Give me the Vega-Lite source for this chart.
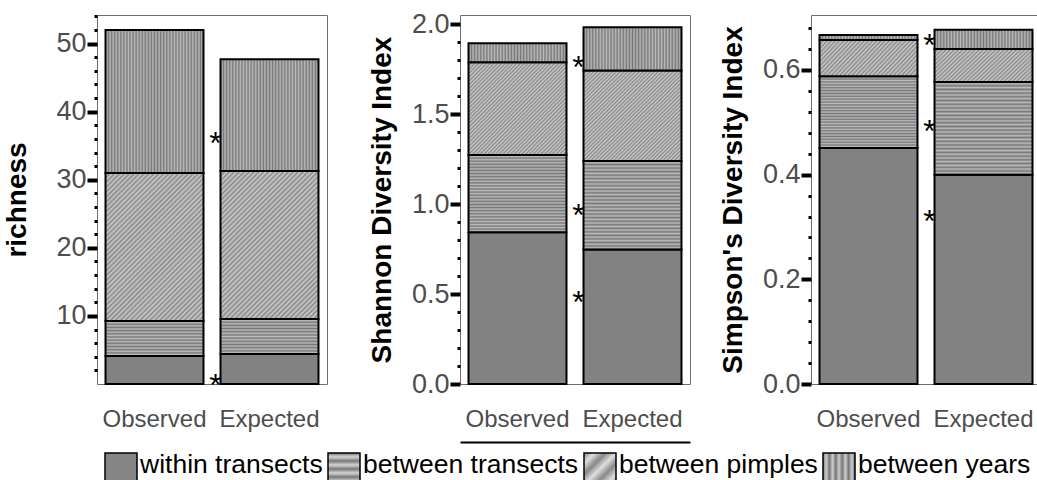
{
  "$schema": "https://vega.github.io/schema/vega-lite/v6.json",
  "padding": {"left": 3, "top": 9, "right": 0, "bottom": 0},
  "params": [
    {"name": "gV", "expr": "{gradient:'linear',x1:0,y1:0,x2:1,y2:0,stops:[{offset:0,color:'#777'},{offset:0.015625,color:'#bbb'},{offset:0.03125,color:'#777'},{offset:0.046875,color:'#bbb'},{offset:0.0625,color:'#777'},{offset:0.078125,color:'#bbb'},{offset:0.09375,color:'#777'},{offset:0.109375,color:'#bbb'},{offset:0.125,color:'#777'},{offset:0.140625,color:'#bbb'},{offset:0.15625,color:'#777'},{offset:0.171875,color:'#bbb'},{offset:0.1875,color:'#777'},{offset:0.203125,color:'#bbb'},{offset:0.21875,color:'#777'},{offset:0.234375,color:'#bbb'},{offset:0.25,color:'#777'},{offset:0.265625,color:'#bbb'},{offset:0.28125,color:'#777'},{offset:0.296875,color:'#bbb'},{offset:0.3125,color:'#777'},{offset:0.328125,color:'#bbb'},{offset:0.34375,color:'#777'},{offset:0.359375,color:'#bbb'},{offset:0.375,color:'#777'},{offset:0.390625,color:'#bbb'},{offset:0.40625,color:'#777'},{offset:0.421875,color:'#bbb'},{offset:0.4375,color:'#777'},{offset:0.453125,color:'#bbb'},{offset:0.46875,color:'#777'},{offset:0.484375,color:'#bbb'},{offset:0.5,color:'#777'},{offset:0.515625,color:'#bbb'},{offset:0.53125,color:'#777'},{offset:0.546875,color:'#bbb'},{offset:0.5625,color:'#777'},{offset:0.578125,color:'#bbb'},{offset:0.59375,color:'#777'},{offset:0.609375,color:'#bbb'},{offset:0.625,color:'#777'},{offset:0.640625,color:'#bbb'},{offset:0.65625,color:'#777'},{offset:0.671875,color:'#bbb'},{offset:0.6875,color:'#777'},{offset:0.703125,color:'#bbb'},{offset:0.71875,color:'#777'},{offset:0.734375,color:'#bbb'},{offset:0.75,color:'#777'},{offset:0.765625,color:'#bbb'},{offset:0.78125,color:'#777'},{offset:0.796875,color:'#bbb'},{offset:0.8125,color:'#777'},{offset:0.828125,color:'#bbb'},{offset:0.84375,color:'#777'},{offset:0.859375,color:'#bbb'},{offset:0.875,color:'#777'},{offset:0.890625,color:'#bbb'},{offset:0.90625,color:'#777'},{offset:0.921875,color:'#bbb'},{offset:0.9375,color:'#777'},{offset:0.953125,color:'#bbb'},{offset:0.96875,color:'#777'},{offset:0.984375,color:'#bbb'},{offset:1,color:'#777'}]}"},
    {"name": "gH1", "expr": "{gradient:'linear',x1:0,y1:0,x2:0,y2:1,stops:[{offset:0,color:'#777'},{offset:0.0455,color:'#bbb'},{offset:0.0909,color:'#777'},{offset:0.1364,color:'#bbb'},{offset:0.1818,color:'#777'},{offset:0.2273,color:'#bbb'},{offset:0.2727,color:'#777'},{offset:0.3182,color:'#bbb'},{offset:0.3636,color:'#777'},{offset:0.4091,color:'#bbb'},{offset:0.4545,color:'#777'},{offset:0.5,color:'#bbb'},{offset:0.5455,color:'#777'},{offset:0.5909,color:'#bbb'},{offset:0.6364,color:'#777'},{offset:0.6818,color:'#bbb'},{offset:0.7273,color:'#777'},{offset:0.7727,color:'#bbb'},{offset:0.8182,color:'#777'},{offset:0.8636,color:'#bbb'},{offset:0.9091,color:'#777'},{offset:0.9545,color:'#bbb'},{offset:1,color:'#777'}]}"},
    {"name": "gH2", "expr": "{gradient:'linear',x1:0,y1:0,x2:0,y2:1,stops:[{offset:0,color:'#777'},{offset:0.02,color:'#bbb'},{offset:0.04,color:'#777'},{offset:0.06,color:'#bbb'},{offset:0.08,color:'#777'},{offset:0.1,color:'#bbb'},{offset:0.12,color:'#777'},{offset:0.14,color:'#bbb'},{offset:0.16,color:'#777'},{offset:0.18,color:'#bbb'},{offset:0.2,color:'#777'},{offset:0.22,color:'#bbb'},{offset:0.24,color:'#777'},{offset:0.26,color:'#bbb'},{offset:0.28,color:'#777'},{offset:0.3,color:'#bbb'},{offset:0.32,color:'#777'},{offset:0.34,color:'#bbb'},{offset:0.36,color:'#777'},{offset:0.38,color:'#bbb'},{offset:0.4,color:'#777'},{offset:0.42,color:'#bbb'},{offset:0.44,color:'#777'},{offset:0.46,color:'#bbb'},{offset:0.48,color:'#777'},{offset:0.5,color:'#bbb'},{offset:0.52,color:'#777'},{offset:0.54,color:'#bbb'},{offset:0.56,color:'#777'},{offset:0.58,color:'#bbb'},{offset:0.6,color:'#777'},{offset:0.62,color:'#bbb'},{offset:0.64,color:'#777'},{offset:0.66,color:'#bbb'},{offset:0.68,color:'#777'},{offset:0.7,color:'#bbb'},{offset:0.72,color:'#777'},{offset:0.74,color:'#bbb'},{offset:0.76,color:'#777'},{offset:0.78,color:'#bbb'},{offset:0.8,color:'#777'},{offset:0.82,color:'#bbb'},{offset:0.84,color:'#777'},{offset:0.86,color:'#bbb'},{offset:0.88,color:'#777'},{offset:0.9,color:'#bbb'},{offset:0.92,color:'#777'},{offset:0.94,color:'#bbb'},{offset:0.96,color:'#777'},{offset:0.98,color:'#bbb'},{offset:1,color:'#777'}]}"},
    {"name": "gD1", "expr": "{gradient:'linear',x1:0,y1:0,x2:0.765,y2:1.155,stops:[{offset:0,color:'#888'},{offset:0.01,color:'#ccc'},{offset:0.02,color:'#888'},{offset:0.03,color:'#ccc'},{offset:0.04,color:'#888'},{offset:0.05,color:'#ccc'},{offset:0.06,color:'#888'},{offset:0.07,color:'#ccc'},{offset:0.08,color:'#888'},{offset:0.09,color:'#ccc'},{offset:0.1,color:'#888'},{offset:0.11,color:'#ccc'},{offset:0.12,color:'#888'},{offset:0.13,color:'#ccc'},{offset:0.14,color:'#888'},{offset:0.15,color:'#ccc'},{offset:0.16,color:'#888'},{offset:0.17,color:'#ccc'},{offset:0.18,color:'#888'},{offset:0.19,color:'#ccc'},{offset:0.2,color:'#888'},{offset:0.21,color:'#ccc'},{offset:0.22,color:'#888'},{offset:0.23,color:'#ccc'},{offset:0.24,color:'#888'},{offset:0.25,color:'#ccc'},{offset:0.26,color:'#888'},{offset:0.27,color:'#ccc'},{offset:0.28,color:'#888'},{offset:0.29,color:'#ccc'},{offset:0.3,color:'#888'},{offset:0.31,color:'#ccc'},{offset:0.32,color:'#888'},{offset:0.33,color:'#ccc'},{offset:0.34,color:'#888'},{offset:0.35,color:'#ccc'},{offset:0.36,color:'#888'},{offset:0.37,color:'#ccc'},{offset:0.38,color:'#888'},{offset:0.39,color:'#ccc'},{offset:0.4,color:'#888'},{offset:0.41,color:'#ccc'},{offset:0.42,color:'#888'},{offset:0.43,color:'#ccc'},{offset:0.44,color:'#888'},{offset:0.45,color:'#ccc'},{offset:0.46,color:'#888'},{offset:0.47,color:'#ccc'},{offset:0.48,color:'#888'},{offset:0.49,color:'#ccc'},{offset:0.5,color:'#888'},{offset:0.51,color:'#ccc'},{offset:0.52,color:'#888'},{offset:0.53,color:'#ccc'},{offset:0.54,color:'#888'},{offset:0.55,color:'#ccc'},{offset:0.56,color:'#888'},{offset:0.57,color:'#ccc'},{offset:0.58,color:'#888'},{offset:0.59,color:'#ccc'},{offset:0.6,color:'#888'},{offset:0.61,color:'#ccc'},{offset:0.62,color:'#888'},{offset:0.63,color:'#ccc'},{offset:0.64,color:'#888'},{offset:0.65,color:'#ccc'},{offset:0.66,color:'#888'},{offset:0.67,color:'#ccc'},{offset:0.68,color:'#888'},{offset:0.69,color:'#ccc'},{offset:0.7,color:'#888'},{offset:0.71,color:'#ccc'},{offset:0.72,color:'#888'},{offset:0.73,color:'#ccc'},{offset:0.74,color:'#888'},{offset:0.75,color:'#ccc'},{offset:0.76,color:'#888'},{offset:0.77,color:'#ccc'},{offset:0.78,color:'#888'},{offset:0.79,color:'#ccc'},{offset:0.8,color:'#888'},{offset:0.81,color:'#ccc'},{offset:0.82,color:'#888'},{offset:0.83,color:'#ccc'},{offset:0.84,color:'#888'},{offset:0.85,color:'#ccc'},{offset:0.86,color:'#888'},{offset:0.87,color:'#ccc'},{offset:0.88,color:'#888'},{offset:0.89,color:'#ccc'},{offset:0.9,color:'#888'},{offset:0.91,color:'#ccc'},{offset:0.92,color:'#888'},{offset:0.93,color:'#ccc'},{offset:0.94,color:'#888'},{offset:0.95,color:'#ccc'},{offset:0.96,color:'#888'},{offset:0.97,color:'#ccc'},{offset:0.98,color:'#888'},{offset:0.99,color:'#ccc'},{offset:1,color:'#888'}]}"},
    {"name": "gD2", "expr": "{gradient:'linear',x1:0,y1:0,x2:1.033,y2:0.965,stops:[{offset:0,color:'#888'},{offset:0.01,color:'#ccc'},{offset:0.02,color:'#888'},{offset:0.03,color:'#ccc'},{offset:0.04,color:'#888'},{offset:0.05,color:'#ccc'},{offset:0.06,color:'#888'},{offset:0.07,color:'#ccc'},{offset:0.08,color:'#888'},{offset:0.09,color:'#ccc'},{offset:0.1,color:'#888'},{offset:0.11,color:'#ccc'},{offset:0.12,color:'#888'},{offset:0.13,color:'#ccc'},{offset:0.14,color:'#888'},{offset:0.15,color:'#ccc'},{offset:0.16,color:'#888'},{offset:0.17,color:'#ccc'},{offset:0.18,color:'#888'},{offset:0.19,color:'#ccc'},{offset:0.2,color:'#888'},{offset:0.21,color:'#ccc'},{offset:0.22,color:'#888'},{offset:0.23,color:'#ccc'},{offset:0.24,color:'#888'},{offset:0.25,color:'#ccc'},{offset:0.26,color:'#888'},{offset:0.27,color:'#ccc'},{offset:0.28,color:'#888'},{offset:0.29,color:'#ccc'},{offset:0.3,color:'#888'},{offset:0.31,color:'#ccc'},{offset:0.32,color:'#888'},{offset:0.33,color:'#ccc'},{offset:0.34,color:'#888'},{offset:0.35,color:'#ccc'},{offset:0.36,color:'#888'},{offset:0.37,color:'#ccc'},{offset:0.38,color:'#888'},{offset:0.39,color:'#ccc'},{offset:0.4,color:'#888'},{offset:0.41,color:'#ccc'},{offset:0.42,color:'#888'},{offset:0.43,color:'#ccc'},{offset:0.44,color:'#888'},{offset:0.45,color:'#ccc'},{offset:0.46,color:'#888'},{offset:0.47,color:'#ccc'},{offset:0.48,color:'#888'},{offset:0.49,color:'#ccc'},{offset:0.5,color:'#888'},{offset:0.51,color:'#ccc'},{offset:0.52,color:'#888'},{offset:0.53,color:'#ccc'},{offset:0.54,color:'#888'},{offset:0.55,color:'#ccc'},{offset:0.56,color:'#888'},{offset:0.57,color:'#ccc'},{offset:0.58,color:'#888'},{offset:0.59,color:'#ccc'},{offset:0.6,color:'#888'},{offset:0.61,color:'#ccc'},{offset:0.62,color:'#888'},{offset:0.63,color:'#ccc'},{offset:0.64,color:'#888'},{offset:0.65,color:'#ccc'},{offset:0.66,color:'#888'},{offset:0.67,color:'#ccc'},{offset:0.68,color:'#888'},{offset:0.69,color:'#ccc'},{offset:0.7,color:'#888'},{offset:0.71,color:'#ccc'},{offset:0.72,color:'#888'},{offset:0.73,color:'#ccc'},{offset:0.74,color:'#888'},{offset:0.75,color:'#ccc'},{offset:0.76,color:'#888'},{offset:0.77,color:'#ccc'},{offset:0.78,color:'#888'},{offset:0.79,color:'#ccc'},{offset:0.8,color:'#888'},{offset:0.81,color:'#ccc'},{offset:0.82,color:'#888'},{offset:0.83,color:'#ccc'},{offset:0.84,color:'#888'},{offset:0.85,color:'#ccc'},{offset:0.86,color:'#888'},{offset:0.87,color:'#ccc'},{offset:0.88,color:'#888'},{offset:0.89,color:'#ccc'},{offset:0.9,color:'#888'},{offset:0.91,color:'#ccc'},{offset:0.92,color:'#888'},{offset:0.93,color:'#ccc'},{offset:0.94,color:'#888'},{offset:0.95,color:'#ccc'},{offset:0.96,color:'#888'},{offset:0.97,color:'#ccc'},{offset:0.98,color:'#888'},{offset:0.99,color:'#ccc'},{offset:1,color:'#888'}]}"},
    {"name": "gD3", "expr": "{gradient:'linear',x1:0,y1:0,x2:1.203,y2:0.422,stops:[{offset:0,color:'#888'},{offset:0.015625,color:'#ccc'},{offset:0.03125,color:'#888'},{offset:0.046875,color:'#ccc'},{offset:0.0625,color:'#888'},{offset:0.078125,color:'#ccc'},{offset:0.09375,color:'#888'},{offset:0.109375,color:'#ccc'},{offset:0.125,color:'#888'},{offset:0.140625,color:'#ccc'},{offset:0.15625,color:'#888'},{offset:0.171875,color:'#ccc'},{offset:0.1875,color:'#888'},{offset:0.203125,color:'#ccc'},{offset:0.21875,color:'#888'},{offset:0.234375,color:'#ccc'},{offset:0.25,color:'#888'},{offset:0.265625,color:'#ccc'},{offset:0.28125,color:'#888'},{offset:0.296875,color:'#ccc'},{offset:0.3125,color:'#888'},{offset:0.328125,color:'#ccc'},{offset:0.34375,color:'#888'},{offset:0.359375,color:'#ccc'},{offset:0.375,color:'#888'},{offset:0.390625,color:'#ccc'},{offset:0.40625,color:'#888'},{offset:0.421875,color:'#ccc'},{offset:0.4375,color:'#888'},{offset:0.453125,color:'#ccc'},{offset:0.46875,color:'#888'},{offset:0.484375,color:'#ccc'},{offset:0.5,color:'#888'},{offset:0.515625,color:'#ccc'},{offset:0.53125,color:'#888'},{offset:0.546875,color:'#ccc'},{offset:0.5625,color:'#888'},{offset:0.578125,color:'#ccc'},{offset:0.59375,color:'#888'},{offset:0.609375,color:'#ccc'},{offset:0.625,color:'#888'},{offset:0.640625,color:'#ccc'},{offset:0.65625,color:'#888'},{offset:0.671875,color:'#ccc'},{offset:0.6875,color:'#888'},{offset:0.703125,color:'#ccc'},{offset:0.71875,color:'#888'},{offset:0.734375,color:'#ccc'},{offset:0.75,color:'#888'},{offset:0.765625,color:'#ccc'},{offset:0.78125,color:'#888'},{offset:0.796875,color:'#ccc'},{offset:0.8125,color:'#888'},{offset:0.828125,color:'#ccc'},{offset:0.84375,color:'#888'},{offset:0.859375,color:'#ccc'},{offset:0.875,color:'#888'},{offset:0.890625,color:'#ccc'},{offset:0.90625,color:'#888'},{offset:0.921875,color:'#ccc'},{offset:0.9375,color:'#888'},{offset:0.953125,color:'#ccc'},{offset:0.96875,color:'#888'},{offset:0.984375,color:'#ccc'},{offset:1,color:'#888'}]}"},
    {"name": "lW", "expr": "'#858585'"},
    {"name": "lH", "expr": "{gradient:'linear',x1:0,y1:0,x2:0,y2:1,stops:[{offset:0,color:'#7a7a7a'},{offset:0.125,color:'#d4d4d4'},{offset:0.25,color:'#7a7a7a'},{offset:0.375,color:'#d4d4d4'},{offset:0.5,color:'#7a7a7a'},{offset:0.625,color:'#d4d4d4'},{offset:0.75,color:'#7a7a7a'},{offset:0.875,color:'#d4d4d4'},{offset:1,color:'#7a7a7a'}]}"},
    {"name": "lD", "expr": "{gradient:'linear',x1:0,y1:0,x2:1,y2:1,stops:[{offset:0,color:'#888'},{offset:0.1667,color:'#ddd'},{offset:0.3333,color:'#888'},{offset:0.5,color:'#ddd'},{offset:0.6667,color:'#888'},{offset:0.8333,color:'#ddd'},{offset:1,color:'#888'}]}"},
    {"name": "lV", "expr": "{gradient:'linear',x1:0,y1:0,x2:1,y2:0,stops:[{offset:0,color:'#777'},{offset:0.1,color:'#ccc'},{offset:0.2,color:'#777'},{offset:0.3,color:'#ccc'},{offset:0.4,color:'#777'},{offset:0.5,color:'#ccc'},{offset:0.6,color:'#777'},{offset:0.7,color:'#ccc'},{offset:0.8,color:'#777'},{offset:0.9,color:'#ccc'},{offset:1,color:'#777'}]}"}
  ],
  "datasets": {
    "parts": [
      {"metric": "richness", "group": "Observed", "comp": "within transects", "value": 4.1},
      {"metric": "richness", "group": "Observed", "comp": "between transects", "value": 5.15},
      {"metric": "richness", "group": "Observed", "comp": "between pimples", "value": 21.75},
      {"metric": "richness", "group": "Observed", "comp": "between years", "value": 21.0},
      {"metric": "richness", "group": "Expected", "comp": "within transects", "value": 4.4},
      {"metric": "richness", "group": "Expected", "comp": "between transects", "value": 5.15},
      {"metric": "richness", "group": "Expected", "comp": "between pimples", "value": 21.75},
      {"metric": "richness", "group": "Expected", "comp": "between years", "value": 16.4},
      {"metric": "shannon", "group": "Observed", "comp": "within transects", "value": 0.843},
      {"metric": "shannon", "group": "Observed", "comp": "between transects", "value": 0.429},
      {"metric": "shannon", "group": "Observed", "comp": "between pimples", "value": 0.515},
      {"metric": "shannon", "group": "Observed", "comp": "between years", "value": 0.106},
      {"metric": "shannon", "group": "Expected", "comp": "within transects", "value": 0.747},
      {"metric": "shannon", "group": "Expected", "comp": "between transects", "value": 0.492},
      {"metric": "shannon", "group": "Expected", "comp": "between pimples", "value": 0.502},
      {"metric": "shannon", "group": "Expected", "comp": "between years", "value": 0.241},
      {"metric": "simpson", "group": "Observed", "comp": "within transects", "value": 0.451},
      {"metric": "simpson", "group": "Observed", "comp": "between transects", "value": 0.137},
      {"metric": "simpson", "group": "Observed", "comp": "between pimples", "value": 0.069},
      {"metric": "simpson", "group": "Observed", "comp": "between years", "value": 0.010},
      {"metric": "simpson", "group": "Expected", "comp": "within transects", "value": 0.400},
      {"metric": "simpson", "group": "Expected", "comp": "between transects", "value": 0.177},
      {"metric": "simpson", "group": "Expected", "comp": "between pimples", "value": 0.063},
      {"metric": "simpson", "group": "Expected", "comp": "between years", "value": 0.037}
    ],
    "stars": [
      {"metric": "richness", "value": 36.4},
      {"metric": "richness", "value": 0.88},
      {"metric": "shannon", "value": 1.798},
      {"metric": "shannon", "value": 0.98},
      {"metric": "shannon", "value": 0.494},
      {"metric": "simpson", "value": 0.662},
      {"metric": "simpson", "value": 0.496},
      {"metric": "simpson", "value": 0.324}
    ]
  },
  "spacing": 133,
  "bounds": "flush",
  "resolve": {"scale": {"x": "independent", "y": "independent"}},
  "hconcat": [
    {
      "width": 230,
      "height": 369,
      "resolve": {"axis": {"y": "independent"}},
      "layer": [
        {
          "data": {"name": "parts"},
          "transform": [
            {"filter": "datum.metric === 'richness'"},
            {"stack": "value", "groupby": ["group"], "as": ["lo", "hi"]}
          ],
          "mark": {"type": "bar", "stroke": "black", "strokeWidth": 2,
            "fill": {"expr": "datum.comp === 'between years' ? gV : datum.comp === 'between pimples' ? gD1 : datum.comp === 'between transects' ? gH1 : '#828282'"}},
          "encoding": {
            "x": {"field": "group", "type": "nominal", "sort": ["Observed", "Expected"],
              "scale": {"paddingInner": 0.148, "paddingOuter": 0.074},
              "axis": {"title": null}},
            "y": {"field": "lo", "type": "quantitative",
              "scale": {"domain": [0, 54.2], "nice": false, "zero": false},
              "axis": {"orient": "left", "title": "richness", "titlePadding": 24,
                "values": [10, 20, 30, 40, 50], "tickSize": 10, "tickWidth": 4}},
            "y2": {"field": "hi"}
          }
        },
        {
          "data": {"name": "stars"},
          "transform": [{"filter": "datum.metric === 'richness'"}],
          "mark": {"type": "text", "text": "*", "fontSize": 32, "dx": 61, "dy": 18, "baseline": "alphabetic", "align": "center", "color": "black"},
          "encoding": {
            "x": {"datum": "Observed"},
            "y": {"field": "value", "type": "quantitative",
              "axis": {"orient": "left", "title": null, "labels": false, "tickSize": 3, "tickWidth": 3,
                "values": [2, 4, 6, 8, 12, 14, 16, 18, 22, 24, 26, 28, 32, 34, 36, 38, 42, 44, 46, 48, 52, 54]}}
          }
        },
        {
          "data": {"name": "parts"},
          "transform": [{"filter": "false"}],
          "mark": {"type": "square", "opacity": 1},
          "encoding": {
            "fill": {"field": "comp", "type": "nominal",
              "scale": {
                "domain": ["within transects", "between transects", "between pimples", "between years"],
                "range": [{"expr": "lW"}, {"expr": "lH"}, {"expr": "lD"}, {"expr": "lV"}]
              },
              "legend": {
                "title": null, "orient": "none", "legendX": 7, "legendY": 437,
                "direction": "horizontal", "columns": 4, "symbolType": "square", "symbolSize": 1024,
                "symbolStrokeColor": "black", "symbolStrokeWidth": 1.5, "symbolOpacity": 1,
                "labelFontSize": 26.5, "labelColor": "black", "labelFont": "Liberation Sans", "labelLimit": 500,
                "labelOffset": 2, "columnPadding": 2, "padding": 0,
                "encode": {"labels": {"update": {"dy": {"value": -4}}}}
              }}
          }
        }
      ]
    },
    {
      "spacing": 121,
      "bounds": "flush",
      "resolve": {"scale": {"x": "independent", "y": "independent"}},
      "hconcat": [
        {
          "width": 230,
          "height": 369,
          "resolve": {"axis": {"y": "independent"}},
          "layer": [
            {
              "data": {"name": "parts"},
              "transform": [
                {"filter": "datum.metric === 'shannon'"},
                {"stack": "value", "groupby": ["group"], "as": ["lo", "hi"]}
              ],
              "mark": {"type": "bar", "stroke": "black", "strokeWidth": 2,
                "fill": {"expr": "datum.comp === 'between years' ? gV : datum.comp === 'between pimples' ? gD2 : datum.comp === 'between transects' ? gH2 : '#828282'"}},
              "encoding": {
                "x": {"field": "group", "type": "nominal", "sort": ["Observed", "Expected"],
                  "scale": {"paddingInner": 0.148, "paddingOuter": 0.074},
                  "axis": {"title": null, "domain": true, "domainColor": "black", "domainWidth": 2, "offset": 58, "labelPadding": -35}},
                "y": {"field": "lo", "type": "quantitative",
                  "scale": {"domain": [0, 2.05], "nice": false, "zero": false},
                  "axis": {"orient": "left", "title": "Shannon Diversity Index", "format": ".1f",
                    "values": [0, 0.5, 1, 1.5, 2], "tickSize": 10, "tickWidth": 4}},
                "y2": {"field": "hi"}
              }
            },
            {
              "data": {"name": "stars"},
              "transform": [{"filter": "datum.metric === 'shannon'"}],
              "mark": {"type": "text", "text": "*", "fontSize": 32, "dx": 61, "dy": 18, "baseline": "alphabetic", "align": "center", "color": "black"},
              "encoding": {
                "x": {"datum": "Observed"},
                "y": {"field": "value", "type": "quantitative",
                  "axis": {"orient": "left", "title": null, "labels": false, "tickSize": 3, "tickWidth": 3,
                    "values": [0.1, 0.2, 0.3, 0.4, 0.6, 0.7, 0.8, 0.9, 1.1, 1.2, 1.3, 1.4, 1.6, 1.7, 1.8, 1.9]}}
              }
            }
          ]
        },
        {
          "width": 230,
          "height": 369,
          "resolve": {"axis": {"y": "independent"}},
          "layer": [
            {
              "data": {"name": "parts"},
              "transform": [
                {"filter": "datum.metric === 'simpson'"},
                {"stack": "value", "groupby": ["group"], "as": ["lo", "hi"]}
              ],
              "mark": {"type": "bar", "stroke": "black", "strokeWidth": 2,
                "fill": {"expr": "datum.comp === 'between years' ? gV : datum.comp === 'between pimples' ? gD3 : datum.comp === 'between transects' ? gH2 : '#828282'"}},
              "encoding": {
                "x": {"field": "group", "type": "nominal", "sort": ["Observed", "Expected"],
                  "scale": {"paddingInner": 0.148, "paddingOuter": 0.074},
                  "axis": {"title": null}},
                "y": {"field": "lo", "type": "quantitative",
                  "scale": {"domain": [0, 0.705], "nice": false, "zero": false},
                  "axis": {"orient": "left", "title": "Simpson's Diversity Index", "format": ".1f",
                    "values": [0, 0.2, 0.4, 0.6], "tickSize": 10, "tickWidth": 4}},
                "y2": {"field": "hi"}
              }
            },
            {
              "data": {"name": "stars"},
              "transform": [{"filter": "datum.metric === 'simpson'"}],
              "mark": {"type": "text", "text": "*", "fontSize": 32, "dx": 61, "dy": 18, "baseline": "alphabetic", "align": "center", "color": "black"},
              "encoding": {
                "x": {"datum": "Observed"},
                "y": {"field": "value", "type": "quantitative",
                  "axis": {"orient": "left", "title": null, "labels": false, "tickSize": 3, "tickWidth": 3,
                    "values": [0.04, 0.08, 0.12, 0.16, 0.24, 0.28, 0.32, 0.36, 0.44, 0.48, 0.52, 0.56, 0.64, 0.68]}}
              }
            }
          ]
        }
      ]
    }
  ],
  "config": {
    "font": "Liberation Sans",
    "view": {"stroke": "#6e6e6e", "strokeWidth": 1},
    "axis": {
      "grid": false,
      "labelFont": "Liberation Sans",
      "titleFont": "Liberation Sans",
      "labelColor": "#4d4d4d",
      "tickColor": "black",
      "titleColor": "black",
      "titleFontWeight": "bold",
      "titleFontSize": 28
    },
    "axisY": {"labelFontSize": 27, "labelPadding": 1, "domain": false, "labelOverlap": false, "labelFlush": false, "titlePadding": 15},
    "axisX": {"labelFontSize": 24, "labelAngle": 0, "ticks": false, "tickSize": 0, "domain": false, "labelPadding": 23}
  }
}
